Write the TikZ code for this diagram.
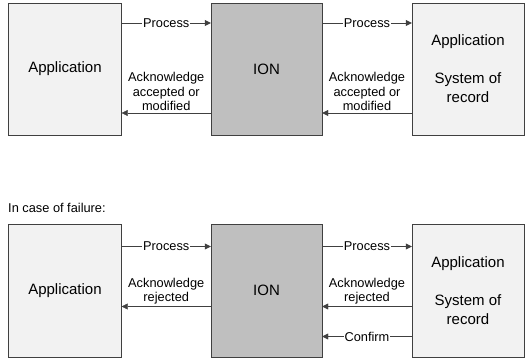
\documentclass[tikz,border=0pt]{standalone}
\usepackage{fontspec}
\setmainfont{Liberation Sans}
\usetikzlibrary{arrows.meta, positioning}
\definecolor{linegray}{HTML}{404040}
\definecolor{appfill}{HTML}{F2F2F2}
\definecolor{ionfill}{HTML}{BFBFBF}

\begin{document}
\begin{tikzpicture}[
  x=1pt, y=-1pt,
  box/.style={draw=linegray, minimum width=113pt, minimum height=132pt, inner sep=0pt, align=center, font=\fontsize{15}{19}\selectfont},
  appbox/.style={box, fill=appfill},
  ionbox/.style={box, fill=ionfill},
  flow/.style={draw=linegray, -{Triangle[length=6pt,width=6pt]}},
  tag/.style={fill=white, inner sep=1pt, font=\fontsize{12.8}{14.5}\selectfont},
  note/.style={above, inner sep=2pt, align=center, font=\fontsize{12.8}{14.5}\selectfont}
]
\useasboundingbox (0,0) rectangle (525,360);

% normal case
\node[appbox] (app1) at (65,69) {Application};
\node[ionbox, minimum width=111pt] (ion1) at (266.5,69) {ION};
\node[appbox, minimum width=112pt] (sor1) at (468,69) {Application\\[19pt]System of\\record};

\draw[flow] ([yshift=46pt]app1.east) -- node[tag] {Process} ([yshift=46pt]ion1.west);
\draw[flow] ([yshift=46pt]ion1.east) -- node[tag] {Process} ([yshift=46pt]sor1.west);
\draw[flow] ([yshift=-44pt]ion1.west) -- node[note] {Acknowledge\\accepted or\\modified} ([yshift=-44pt]app1.east);
\draw[flow] ([yshift=-44pt]sor1.west) -- node[note] {Acknowledge\\accepted or\\modified} ([yshift=-44pt]ion1.east);

% failure case
\node[anchor=base west, inner sep=0pt, font=\fontsize{12.8}{14.5}\selectfont] (fail) at (8,212) {In case of failure:};

\node[appbox, minimum height=133pt] (app2) at (65,290.5) {Application};
\node[ionbox, minimum width=111pt, minimum height=133pt] (ion2) at (266.5,290.5) {ION};
\node[appbox, minimum width=112pt, minimum height=133pt] (sor2) at (468,290.5) {Application\\[19pt]System of\\record};

\draw[flow] ([yshift=44pt]app2.east) -- node[tag] {Process} ([yshift=44pt]ion2.west);
\draw[flow] ([yshift=44pt]ion2.east) -- node[tag] {Process} ([yshift=44pt]sor2.west);
\draw[flow] ([yshift=-16pt]ion2.west) -- node[note] {Acknowledge\\rejected} ([yshift=-16pt]app2.east);
\draw[flow] ([yshift=-16pt]sor2.west) -- node[note] {Acknowledge\\rejected} ([yshift=-16pt]ion2.east);
\draw[flow] ([yshift=-46pt]sor2.west) -- node[tag] {Confirm} ([yshift=-46pt]ion2.east);
\end{tikzpicture}
\end{document}
